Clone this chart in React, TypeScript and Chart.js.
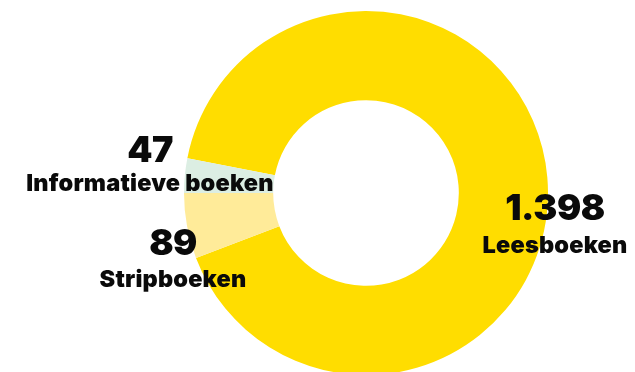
import React, { useEffect, useRef } from "react";
import { Chart, registerables } from "chart.js";

Chart.register(...registerables);

const categories = ["Leesboeken", "Stripboeken", "Informatieve boeken"];
const values = [1398, 89, 47];
const colors = ["#FFDD00", "#FFEB99", "#DCEEE3"];

// label placement relative to doughnut centre (px)
const labelOffsets = [
  { dx: 189, numY: 27, txtY: 60 },
  { dx: -193, numY: 62, txtY: 94 },
  { dx: -216, numY: -31, txtY: -2 },
];

const fmt = (v: number) => String(v).replace(/\B(?=(\d{3})+(?!\d))/g, ".");

const labelPlugin = {
  id: "outLabels",
  afterDraw(chart: any) {
    const ctx = chart.ctx;
    const meta = chart.getDatasetMeta(0);
    const arc = meta.data[0];
    if (!arc) return;
    const cx = arc.x;
    const cy = arc.y;
    ctx.save();
    ctx.fillStyle = "#0a0a0a";
    ctx.textAlign = "center";
    ctx.textBaseline = "alphabetic";
    categories.forEach((c, i) => {
      const o = labelOffsets[i];
      (ctx as any).letterSpacing = "-0.5px";
      ctx.font = "900 36px Inter";
      ctx.fillText(fmt(values[i]), cx + o.dx, cy + o.numY);
      (ctx as any).letterSpacing = "0.2px";
      ctx.font = "900 23.5px Inter";
      ctx.fillText(c, cx + o.dx, cy + o.txtY);
    });
    ctx.restore();
  },
};

export default function App() {
  const ref = useRef<HTMLCanvasElement>(null);
  useEffect(() => {
    if (!ref.current) return;
    const chart = new Chart(ref.current, {
      type: "doughnut",
      data: {
        labels: categories,
        datasets: [
          {
            data: values,
            backgroundColor: colors,
            borderWidth: 0,
            hoverOffset: 0,
          },
        ],
      },
      options: {
        responsive: false,
        animation: false,
        rotation: -79,
        cutout: "51%",
        layout: { padding: { top: 11, left: 184, right: 87, bottom: 5 } },
        plugins: {
          legend: { display: false },
          tooltip: { enabled: false },
        },
      },
      plugins: [labelPlugin],
    });
    return () => chart.destroy();
  }, []);
  return (
    <div
      style={{
        position: "absolute",
        left: 0,
        top: 0,
        width: 635,
        height: 372,
        overflow: "hidden",
        background: "#ffffff",
      }}
    >
      <canvas ref={ref} width={635} height={380} style={{ display: "block" }} />
    </div>
  );
}
